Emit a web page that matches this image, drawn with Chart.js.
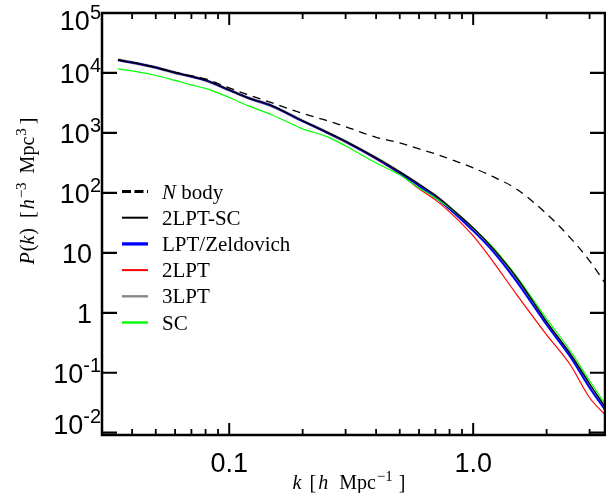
<!DOCTYPE html>
<html>
<head>
<meta charset="utf-8">
<script src="https://cdn.jsdelivr.net/npm/chart.js@4.4.1/dist/chart.umd.min.js"></script>
<style>
  body { margin: 0; background: #fff; }
  canvas { display: block; }
</style>
</head>
<body>
<canvas id="grafico" width="606" height="493"></canvas>
<script>
// datos
const kValues = [0.035, 0.04, 0.05, 0.06, 0.07, 0.08, 0.1, 0.12, 0.15, 0.2, 0.25, 0.3,
  0.4, 0.5, 0.6, 0.7, 0.8, 1.0, 1.2, 1.5, 2.0, 2.5, 3.0, 3.47];

const nbody = [16480, 14960, 12350, 10190, 8910, 7940, 5620, 4300, 3160, 2110, 1620, 1270,
  845, 681, 541, 447, 369, 261, 188, 117, 44.7, 17.8, 7.36, 3.16];
const lpt2sc = [16480, 14960, 12350, 10120, 8740, 7560, 5210, 3830, 2820, 1585, 1040, 722,
  383, 224, 139, 90.8, 58.4, 26.1, 12.1, 3.98, 0.708, 0.207, 0.0656, 0.0271];
const zeldovich = [16400, 14900, 12300, 10100, 8700, 7520, 5180, 3810, 2800, 1575, 1030, 716,
  376, 215, 131, 84.1, 54.1, 23.3, 10.8, 3.41, 0.631, 0.185, 0.0562, 0.0242];
const lpt2 = [16400, 14900, 12300, 10100, 8700, 7520, 5180, 3810, 2800, 1570, 1025, 710,
  369, 207, 117, 76.4, 48.3, 19.2, 7.36, 2.07, 0.430, 0.136, 0.0383, 0.0200];
const lpt3 = [16450, 14930, 12330, 10110, 8720, 7540, 5200, 3820, 2810, 1580, 1035, 718,
  380, 220, 136, 88.5, 56.5, 25.2, 11.6, 3.8, 0.67, 0.197, 0.061, 0.0255];
const sc = [11660, 10800, 9080, 7500, 6310, 5520, 3905, 2820, 1995, 1166, 874, 607,
  316, 200, 121, 82.5, 56.2, 26.1, 12.6, 4.14, 0.794, 0.233, 0.0736, 0.0304];

const seriesNames = ['N body', '2LPT-SC', 'LPT/Zeldovich', '2LPT', '3LPT', 'SC'];

// ejes
const xMin = 0.0301, xMax = 3.47;
const yMin = 0.00916, yMax = 1e5;
const xMajorTicks = [0.1, 1.0];
const xTickLabels = ['0.1', '1.0'];
const xMinorTicks = [0.04, 0.05, 0.06, 0.07, 0.08, 0.09, 0.2, 0.3, 0.4, 0.5, 0.6, 0.7, 0.8, 0.9, 2, 3];
const yTicks = [1e-2, 1e-1, 1, 10, 1e2, 1e3, 1e4, 1e5];
const yTickLabels = [['10', '-2'], ['10', '-1'], ['1', ''], ['10', ''], ['10', '2'], ['10', '3'], ['10', '4'], ['10', '5']];

const puntos = arr => kValues.map((k, i) => ({ x: k, y: arr[i] }));

// texto con cursiva y superindices
function medirTexto(ctx, partes, size) {
  let w = 0;
  const items = partes.map(p => {
    const fs = p.sup ? size * 0.75 : size;
    const font = (p.it ? 'italic ' : '') + fs + 'px "Liberation Serif"';
    ctx.font = font;
    const pw = ctx.measureText(p.t).width;
    const item = { t: p.t, font, x: w, dy: p.sup ? -size * 0.42 : 0 };
    w += pw + (p.gap || 0);
    return item;
  });
  return { items, w };
}

function dibujarTexto(ctx, partes, size) {
  const m = medirTexto(ctx, partes, size);
  ctx.textAlign = 'left';
  ctx.textBaseline = 'alphabetic';
  m.items.forEach(it => {
    ctx.font = it.font;
    ctx.fillText(it.t, it.x - m.w / 2, it.dy);
  });
}

const marco = {
  id: 'marco',
  afterDraw(chart) {
    const { ctx, chartArea: a, scales: { x, y } } = chart;
    ctx.save();
    ctx.strokeStyle = '#000';
    ctx.fillStyle = '#000';

    // ticks hacia dentro
    ctx.lineWidth = 2;
    xMajorTicks.forEach(v => {
      const px = x.getPixelForValue(v);
      ctx.beginPath();
      ctx.moveTo(px, a.bottom); ctx.lineTo(px, a.bottom - 12);
      ctx.moveTo(px, a.top); ctx.lineTo(px, a.top + 12);
      ctx.stroke();
    });
    ctx.lineWidth = 1.8;
    xMinorTicks.forEach(v => {
      const px = x.getPixelForValue(v);
      ctx.beginPath();
      ctx.moveTo(px, a.bottom); ctx.lineTo(px, a.bottom - 6);
      ctx.moveTo(px, a.top); ctx.lineTo(px, a.top + 6);
      ctx.stroke();
    });
    ctx.lineWidth = 2.2;
    yTicks.forEach(v => {
      const py = y.getPixelForValue(v);
      ctx.beginPath();
      ctx.moveTo(a.left, py); ctx.lineTo(a.left + 15, py);
      ctx.moveTo(a.right, py); ctx.lineTo(a.right - 15, py);
      ctx.stroke();
    });

    ctx.lineWidth = 2.5;
    ctx.strokeRect(a.left, a.top, a.right - a.left, a.bottom - a.top);

    // etiquetas eje x
    ctx.font = '27px "Liberation Sans"';
    ctx.textAlign = 'center';
    ctx.textBaseline = 'alphabetic';
    xMajorTicks.forEach((v, i) => {
      ctx.fillText(xTickLabels[i], x.getPixelForValue(v), 472);
    });

    // etiquetas eje y
    yTicks.forEach((v, i) => {
      const [base, exp] = yTickLabels[i];
      let py = y.getPixelForValue(v) + 10;
      if (i === 0) py -= 9;
      if (i === yTicks.length - 1) py += 7;
      const xEnd = exp ? 101 : 92;
      ctx.textAlign = 'right';
      let expW = 0;
      if (exp) {
        ctx.font = '20px "Liberation Sans"';
        expW = ctx.measureText(exp).width;
        ctx.fillText(exp, xEnd, py - 11);
      }
      ctx.font = '27px "Liberation Sans"';
      ctx.fillText(base, xEnd - expW, py);
    });

    // titulos
    ctx.save();
    ctx.translate(349, 489);
    dibujarTexto(ctx, [
      { t: 'k', it: 1, gap: 8 }, { t: '[', gap: 2 }, { t: 'h', it: 1, gap: 11 },
      { t: 'Mpc', gap: 1 }, { t: '\u22121', sup: 1, gap: 6 }, { t: ']' }
    ], 20);
    ctx.restore();

    ctx.save();
    ctx.translate(34, 191);
    ctx.rotate(-Math.PI / 2);
    dibujarTexto(ctx, [
      { t: 'P', it: 1, gap: 1 }, { t: '(' }, { t: 'k', it: 1, gap: 1 }, { t: ')', gap: 10 },
      { t: '[', gap: 2 }, { t: 'h', it: 1, gap: 1 }, { t: '\u22123', sup: 1, gap: 9 },
      { t: 'Mpc', gap: 1 }, { t: '3', sup: 1, gap: 4 }, { t: ']' }
    ], 20);
    ctx.restore();

    // leyenda
    const anchos = [3, 2, 3.3, 2, 2.4, 2.4];
    chart.data.datasets.forEach((ds, i) => {
      const ly = 191.5 + i * 26.2;
      ctx.beginPath();
      ctx.strokeStyle = ds.borderColor;
      ctx.lineWidth = anchos[i];
      ctx.setLineDash(i === 0 ? [9, 3.5] : []);
      ctx.moveTo(122, ly); ctx.lineTo(148, ly);
      ctx.stroke();
      ctx.setLineDash([]);
      ctx.textAlign = 'left';
      ctx.fillStyle = '#000';
      if (i === 0) {
        ctx.font = 'italic 21px "Liberation Serif"';
        ctx.fillText('N', 162, ly + 7);
        const w = ctx.measureText('N ').width;
        ctx.font = '21px "Liberation Serif"';
        ctx.fillText('body', 162 + w, ly + 7);
      } else {
        ctx.font = '21px "Liberation Serif"';
        ctx.fillText(seriesNames[i], 162, ly + 7);
      }
    });
    ctx.restore();
  }
};

const ctx = document.getElementById('grafico').getContext('2d');
new Chart(ctx, {
  type: 'line',
  data: {
    datasets: [
      { label: seriesNames[0], data: puntos(nbody), borderColor: '#000000', borderWidth: 1.3, borderDash: [8, 6], order: 0 },
      { label: seriesNames[1], data: puntos(lpt2sc), borderColor: '#000000', borderWidth: 1.3, order: 1 },
      { label: seriesNames[2], data: puntos(zeldovich), borderColor: '#0000ff', borderWidth: 2, order: 3 },
      { label: seriesNames[3], data: puntos(lpt2), borderColor: '#ff0000', borderWidth: 1.2, order: 4 },
      { label: seriesNames[4], data: puntos(lpt3), borderColor: '#888888', borderWidth: 3, order: 5 },
      { label: seriesNames[5], data: puntos(sc), borderColor: '#00ff00', borderWidth: 1.2, order: 2 }
    ]
  },
  options: {
    responsive: false,
    animation: false,
    layout: { padding: { top: 13, right: 1, left: 0, bottom: 0 } },
    elements: { point: { radius: 0 }, line: { cubicInterpolationMode: 'monotone' } },
    plugins: { legend: { display: false }, tooltip: { enabled: false } },
    scales: {
      x: {
        type: 'logarithmic', min: xMin, max: xMax,
        grid: { display: false }, border: { display: false }, ticks: { display: false },
        afterFit(s) { s.height = 58; }
      },
      y: {
        type: 'logarithmic', min: yMin, max: yMax,
        grid: { display: false }, border: { display: false }, ticks: { display: false },
        afterFit(s) { s.width = 102; }
      }
    }
  },
  plugins: [marco]
});
</script>
</body>
</html>
